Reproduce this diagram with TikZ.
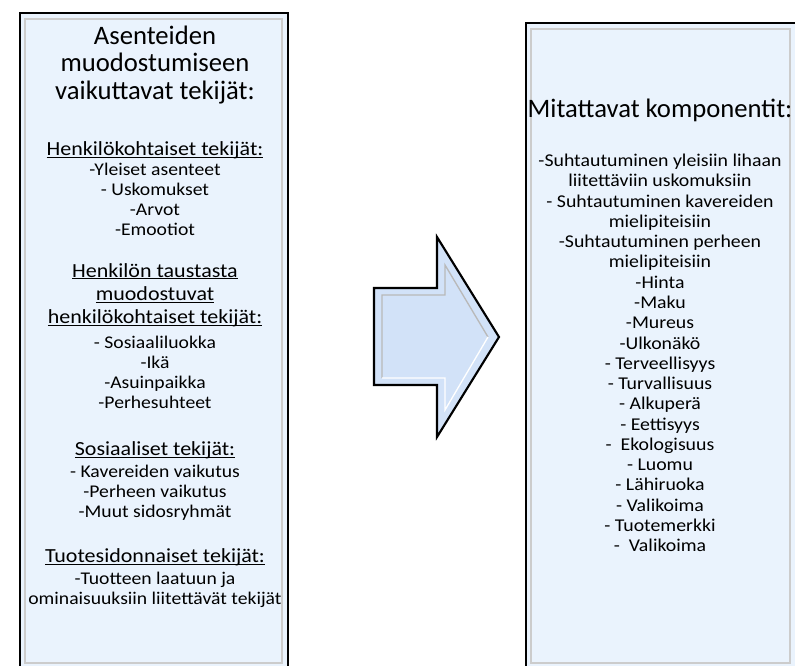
\documentclass[tikz,border=0pt]{standalone}
\usepackage{fontspec}
\setmainfont{Carlito}
\newfontfamily\widefont[FakeStretch=1.1]{Carlito}
\usepackage{xcolor}
\usetikzlibrary{positioning}

\definecolor{boxfill}{RGB}{234,243,253}
\definecolor{arrowfill}{RGB}{210,226,248}
\newcommand\headline[1]{\setbox0\hbox{#1}\rlap{\rule[-1.7pt]{\wd0}{0.7pt}}\box0}

\begin{document}
\begin{tikzpicture}[
    x=0.75pt, y=-0.75pt,
    panel/.style={draw=black, line width=1.6pt, fill=boxfill},
    bevel/.style={draw=gray!40, line width=1pt},
    txt/.style={inner sep=0pt, align=center},
    bigtitle/.style={txt, font=\fontsize{20}{20.6}\selectfont},
    head/.style={txt, font=\widefont\fontsize{15}{17.3}\selectfont},
    items/.style={txt, font=\widefont\fontsize{13.4}{15}\selectfont},
    ritems/.style={txt, font=\widefont\fontsize{13.5}{15.2}\selectfont}
  ]
  \clip (0,0) rectangle (795,666);
  % left and right panels
  \draw[panel] (20,13) rectangle (288,670);
  \draw[bevel] (25,19) rectangle (282,663);
  \draw[panel] (526,23) rectangle (800,670);
  \draw[bevel] (531,29) rectangle (790,663);
  % block arrow
  \draw[black, line width=1.6pt, fill=arrowfill, line join=miter]
    (374,288) -- (437,288) -- (437,237) -- (499,337) -- (437,437) -- (437,385) -- (374,385) -- cycle;
  \draw[gray!55, line width=1pt] (382,378) -- (382,295) -- (445,295) -- (445,265) -- (488,337);
  \draw[white, line width=1pt] (488,337) -- (445,410) -- (445,378) -- (382,378);
  % left panel text
  \node[bigtitle] (ltitle) at (155,65) {Asenteiden\\muodostumiseen\\vaikuttavat tekijät:};
  \node[head] (lhead1) at (155,150) {\headline{Henkilökohtaiset tekijät:}};
  \node[items] (litems1) at (155,199) {-Yleiset asenteet\\- Uskomukset\\-Arvot\\-Emootiot};
  \node[head] (lhead2) at (155,295) {\headline{Henkilön taustasta}\\\headline{muodostuvat}\\\headline{henkilökohtaiset tekijät:}};
  \node[items] (litems2) at (155,372) {- Sosiaaliluokka\\-Ikä\\-Asuinpaikka\\-Perhesuhteet};
  \node[head] (lhead3) at (155,450) {\headline{Sosiaaliset tekijät:}};
  \node[items] (litems3) at (155,493) {- Kavereiden vaikutus\\-Perheen vaikutus\\-Muut sidosryhmät};
  \node[head] (lhead4) at (155,557) {\headline{Tuotesidonnaiset tekijät:}};
  \node[items] (litems4) at (155,590) {-Tuotteen laatuun ja\\ominaisuuksiin liitettävät tekijät};
  % right panel text
  \node[bigtitle] (rtitle) at (660,110) {Mitattavat komponentit:};
  \node[ritems] (ritems) at (660,353) {-Suhtautuminen yleisiin lihaan\\liitettäviin uskomuksiin\\- Suhtautuminen kavereiden\\mielipiteisiin\\-Suhtautuminen perheen\\mielipiteisiin\\-Hinta\\-Maku\\-Mureus\\-Ulkonäkö\\- Terveellisyys\\- Turvallisuus\\- Alkuperä\\- Eettisyys\\-~~Ekologisuus\\- Luomu\\- Lähiruoka\\- Valikoima\\- Tuotemerkki\\-~~Valikoima};
\end{tikzpicture}
\end{document}
